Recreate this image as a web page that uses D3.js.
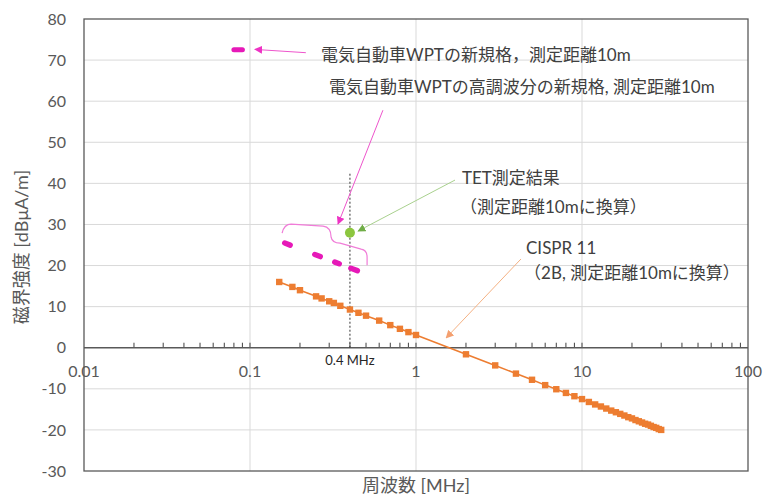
<!DOCTYPE html>
<html><head><meta charset="utf-8">
<script src="https://cdn.jsdelivr.net/npm/d3@7"></script>
<style>body{margin:0;background:#fff}svg{display:block}</style>
</head><body>
<svg id="c" width="763" height="498"></svg>
<script>
// ---- data ----
const xTicks = [0.01, 0.1, 1, 10, 100];
const xTickLabels = ["0.01", "0.1", "1", "10", "100"];
const yTicks = [-30, -20, -10, 0, 10, 20, 30, 40, 50, 60, 70, 80];
const cisprFreq = [0.15,0.18,0.2,0.25,0.27,0.3,0.32,0.35,0.4,0.45,0.5,0.6,0.7,0.8,0.9,1,
  2,3,4,5,6,7,8,9,10,11,12,13,14,15,16,17,18,19,20,21,22,23,24,25,26,27,28,29,30];
const cisprVal = [16.0,14.8,14.0,12.5,12.0,11.3,10.9,10.2,9.3,8.5,7.8,6.6,5.5,4.6,3.8,3.1,
  -1.6,-4.3,-6.3,-7.8,-9.1,-10.1,-11.0,-11.8,-12.5,-13.2,-13.8,-14.3,-14.8,-15.3,-15.7,-16.1,-16.5,-16.9,-17.2,-17.6,-17.9,-18.2,-18.5,-18.7,-19.0,-19.3,-19.5,-19.8,-20.0];
const wptFreq = [0.08, 0.09];
const wptVal = [72.5, 72.5];
const harmFreq = [0.15, 0.46];
const harmVal = [26, 18.5];
const tetFreq = [0.4];
const tetVal = [28];
const refFreq = [0.4, 0.4];
const refVal = [0, 42.5];

// annotation texts (anchor freq, value at text centre)
const labels = [
  {t:"電気自動車WPTの新規格，測定距離10m", f:0.268, v:71.2, size:17},
  {t:"電気自動車WPTの高調波分の新規格, 測定距離10m", f:0.299, v:63.4, size:17},
  {t:"TET測定結果", f:1.89, v:41.3, size:17},
  {t:"（測定距離10mに換算）", f:1.84, v:34.2, size:17},
  {t:"CISPR 11", f:4.60, v:24.2, size:17},
  {t:"（2B, 測定距離10mに換算）", f:4.48, v:18.2, size:17},
];
const arrows = [
  {f1:0.217, v1:71.8, f2:0.107, v2:72.6, c:"#EE55CC", m:"mPink"},
  {f1:0.632, v1:57.8, f2:0.339, v2:30.1, c:"#EE55CC", m:"mPink"},
  {f1:1.718, v1:40.8, f2:0.448, v2:28.4, c:"#A9D18E", m:"mGreen"},
  {f1:4.29, v1:21.6, f2:1.52, v2:2.4, c:"#F4B183", m:"mOrange"},
];
const brace = {f:0.308, v:26.9};

// ---- chart ----
const svg = d3.select("#c");
const x = d3.scaleLog().domain([0.01, 100]).range([84, 748]);
const y = d3.scaleLinear().domain([-30, 80]).range([471, 19]);
const FONT = "Lato, 'Noto Sans CJK JP', sans-serif";

const defs = svg.append("defs");
[["mPink","#EE33C4"],["mGreen","#70AD47"],["mOrange","#F4A070"]].forEach(([id,c])=>{
  defs.append("marker").attr("id",id).attr("viewBox","0 0 10 10").attr("refX",9).attr("refY",5)
    .attr("markerWidth",8).attr("markerHeight",8).attr("markerUnits","userSpaceOnUse").attr("orient","auto")
    .append("path").attr("d","M0,0 L10,5 L0,10 z").attr("fill",c);
});

// gridlines
svg.append("g").selectAll("line").data(yTicks.filter(d=>d!==0 && d!==80 && d!==-30)).join("line")
  .attr("x1",84).attr("x2",748).attr("y1",d=>y(d)).attr("y2",d=>y(d))
  .attr("stroke","#D9D9D9").attr("stroke-width",1);
svg.append("g").selectAll("line").data(xTicks.slice(1,-1)).join("line")
  .attr("x1",d=>x(d)).attr("x2",d=>x(d)).attr("y1",19).attr("y2",471)
  .attr("stroke","#D9D9D9").attr("stroke-width",1);

// plot border
svg.append("rect").attr("x",84).attr("y",19).attr("width",748-84).attr("height",471-19)
  .attr("fill","none").attr("stroke","#595959").attr("stroke-width",1.3);

// x axis at zero with minor ticks
const minor = [];
for (let e=-2;e<2;e++) for (let m=1;m<10;m++) minor.push(m*Math.pow(10,e));
svg.append("g").selectAll("line").data(minor.slice(1)).join("line")
  .attr("x1",d=>x(d)).attr("x2",d=>x(d)).attr("y1",y(0)).attr("y2",y(0)-5)
  .attr("stroke","#404040").attr("stroke-width",1);
svg.append("line").attr("x1",84).attr("x2",748).attr("y1",y(0)).attr("y2",y(0))
  .attr("stroke","#595959").attr("stroke-width",1.6);

// tick labels
svg.append("g").selectAll("text").data(yTicks).join("text")
  .attr("x",66).attr("y",d=>y(d)).attr("dy","0.35em").attr("text-anchor","end")
  .attr("font-family",FONT).attr("font-size",16).attr("fill","#595959").text(d=>d);
svg.append("g").selectAll("text").data(xTicks).join("text")
  .attr("x",d=>x(d)).attr("y",y(0)+24).attr("dy","0.35em").attr("text-anchor","middle")
  .attr("font-family",FONT).attr("font-size",16).attr("fill","#595959").text((d,i)=>xTickLabels[i]);

// axis titles
svg.append("text").attr("transform","translate(22,247) rotate(-90)").attr("text-anchor","middle")
  .attr("dy","0.35em").attr("font-family",FONT).attr("font-size",18).attr("fill","#595959")
  .text("磁界強度 [dBμA/m]");
svg.append("text").attr("x",416).attr("y",486).attr("text-anchor","middle").attr("dy","0.35em")
  .attr("font-family",FONT).attr("font-size",18).attr("fill","#595959").text("周波数 [MHz]");

// reference 0.4 MHz dotted line
svg.append("line").attr("x1",x(refFreq[0])).attr("x2",x(refFreq[1])).attr("y1",y(refVal[0])).attr("y2",y(refVal[1]))
  .attr("stroke","#333").attr("stroke-width",1).attr("stroke-dasharray","2,2");
svg.append("text").attr("x",x(0.4)).attr("y",y(-3.2)).attr("dy","0.35em").attr("text-anchor","middle")
  .attr("font-family",FONT).attr("font-size",13).attr("fill","#262626").text("0.4 MHz");

// CISPR 11 series
const cispr = cisprFreq.map((f,i)=>[f,cisprVal[i]]);
const line = d3.line().x(d=>x(d[0])).y(d=>y(d[1]));
svg.append("path").datum(cispr).attr("d",line).attr("fill","none").attr("stroke","#ED7D31").attr("stroke-width",1.6);
svg.append("g").selectAll("rect").data(cispr).join("rect")
  .attr("x",d=>x(d[0])-3.2).attr("y",d=>y(d[1])-3.2).attr("width",6.4).attr("height",6.4).attr("fill","#ED7D31");

// WPT limits
svg.append("path").datum(wptFreq.map((f,i)=>[f,wptVal[i]])).attr("d",line).attr("fill","none")
  .attr("stroke","#E619B8").attr("stroke-width",5).attr("stroke-linecap","round");
svg.append("path").datum(harmFreq.map((f,i)=>[f,harmVal[i]])).attr("d",line).attr("fill","none")
  .attr("stroke","#E619B8").attr("stroke-width",5.5).attr("stroke-linecap","round")
  .attr("stroke-dasharray","5.8,26.4,5.8,15.6,4.7,12.5,6.9,40").attr("stroke-dashoffset",-5.9);

// brace
const bx = x(brace.f), by = y(brace.v);
svg.append("path").attr("transform",`translate(${bx},${by})`)
  .attr("d","M-49,-4 Q-47,-13 -40,-13 L-8,-11 Q0,-10 0,0 Q1,6 9,6 L30,12 Q36,13 36,20 L36,28")
  .attr("fill","none").attr("stroke","#F07CD8").attr("stroke-width",1.2);

// TET point
svg.append("g").selectAll("circle").data(tetFreq.map((f,i)=>[f,tetVal[i]])).join("circle")
  .attr("cx",d=>x(d[0])).attr("cy",d=>y(d[1])).attr("r",5).attr("fill","#8CC63F");

// arrows
svg.append("g").selectAll("line").data(arrows).join("line")
  .attr("x1",d=>x(d.f1)).attr("y1",d=>y(d.v1)).attr("x2",d=>x(d.f2)).attr("y2",d=>y(d.v2))
  .attr("stroke",d=>d.c).attr("stroke-width",1).attr("marker-end",d=>`url(#${d.m})`);

// labels
svg.append("g").selectAll("text").data(labels).join("text")
  .attr("x",d=>x(d.f)).attr("y",d=>y(d.v)).attr("dy","0.35em")
  .attr("font-family",FONT).attr("font-size",d=>d.size).attr("fill","#404040").text(d=>d.t);
</script>
</body></html>
